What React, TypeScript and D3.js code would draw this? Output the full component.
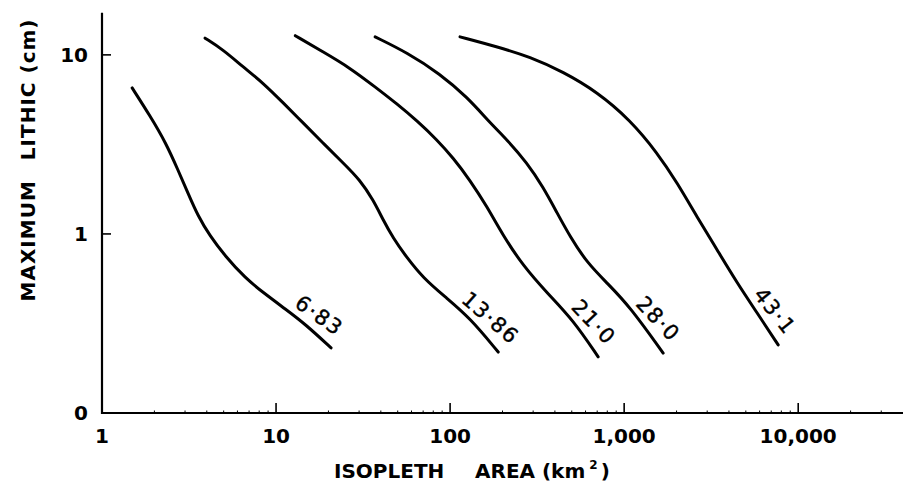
import React from "react";
import * as d3 from "d3";

// ---- data ----
const curveLabels = ["6·83", "13·86", "21·0", "28·0", "43·1"];

const area683 = [1.49, 1.89, 2.33, 2.73, 3.12, 3.56, 4.17, 5.09, 6.63, 8.64, 11.3, 14.7, 20.7];
const size683 = [6.54, 4.56, 3.22, 2.28, 1.69, 1.26, 0.975, 0.754, 0.568, 0.462, 0.381, 0.314, 0.231];

const area1386 = [3.91, 4.96, 6.46, 8.42, 11.0, 14.3, 18.6, 24.3, 30.4, 36.1, 41.2, 47.0, 56.6, 70.0, 93.6, 130, 189];
const size1386 = [12.4, 10.7, 8.57, 6.98, 5.39, 4.17, 3.22, 2.49, 2.0, 1.55, 1.2, 0.95, 0.734, 0.568, 0.445, 0.34, 0.219];

const area210 = [12.9, 18.6, 26.6, 37.1, 49.6, 64.6, 84.2, 104, 130, 163, 202, 263, 361, 509, 709];
const size210 = [12.8, 10.4, 8.46, 6.62, 5.32, 4.28, 3.35, 2.66, 2.0, 1.42, 0.975, 0.663, 0.468, 0.331, 0.206];

const area280 = [37.1, 56.6, 87.6, 125, 170, 213, 277, 342, 412, 490, 613, 798, 1082, 1675];
const size280 = [12.6, 10.3, 7.83, 5.82, 4.17, 3.35, 2.49, 1.83, 1.31, 0.962, 0.689, 0.532, 0.391, 0.216];

const area431 = [114, 186, 288, 446, 700, 1082, 1549, 2018, 2628, 3423, 4460, 5810, 7674];
const size431 = [12.6, 11.1, 9.75, 8.04, 6.21, 4.33, 2.84, 1.93, 1.24, 0.814, 0.532, 0.362, 0.24];

const xTickValues = [1, 10, 100, 1000, 10000];
const xTickLabels = ["1", "10", "100", "1,000", "10,000"];
const yTickValues = [0.1, 1, 10];
const yTickLabels = ["0", "1", "10"];

const W = 904;
const H = 497;

export default function App() {
  const x = d3.scaleLog().domain([1, 40000]).range([102, 903]);
  const y = d3.scaleLog().domain([0.1, 17.2]).range([413, 12.7]);

  const series = [
    { label: curveLabels[0], a: area683, s: size683 },
    { label: curveLabels[1], a: area1386, s: size1386 },
    { label: curveLabels[2], a: area210, s: size210 },
    { label: curveLabels[3], a: area280, s: size280 },
    { label: curveLabels[4], a: area431, s: size431 },
  ];

  const line = d3
    .line<[number, number]>()
    .x((d) => x(d[0]))
    .y((d) => y(d[1]))
    .curve(d3.curveBasis);

  const minorX: number[] = [];
  for (let e = 0; e < 5; e++) {
    for (let m = 2; m <= 9; m++) {
      const v = m * Math.pow(10, e);
      if (v < 40000) minorX.push(v);
    }
  }

  const tickFont = "'DejaVu Sans', sans-serif";

  return (
    <svg
      width={W}
      height={H}
      style={{ position: "absolute", left: 0, top: 0, background: "#fff" }}
    >
      <rect x={0} y={0} width={W} height={H} fill="#fff" />
      {/* axes */}
      <line x1={x(1)} y1={y(17.2)} x2={x(1)} y2={y(0.1) + 1} stroke="#000" strokeWidth={2.2} />
      <line x1={x(1) - 1} y1={y(0.1)} x2={x(40000)} y2={y(0.1)} stroke="#000" strokeWidth={2.2} />

      {xTickValues.slice(1).map((v) => (
        <line key={"xt" + v} x1={x(v)} x2={x(v)} y1={y(0.1)} y2={y(0.1) - 10} stroke="#000" strokeWidth={1.6} />
      ))}
      {minorX.map((v) => (
        <line key={"xm" + v} x1={x(v)} x2={x(v)} y1={y(0.1)} y2={y(0.1) - 2.5} stroke="#000" strokeWidth={1} />
      ))}
      {yTickValues.slice(1).map((v) => (
        <line key={"yt" + v} x1={x(1)} x2={x(1) + 9} y1={y(v)} y2={y(v)} stroke="#000" strokeWidth={1.6} />
      ))}

      {xTickValues.map((v, i) => (
        <text
          key={"xl" + v}
          x={x(v)}
          y={443}
          textAnchor="middle"
          fontFamily={tickFont}
          fontWeight="bold"
          fontSize={20}
          fill="#000"
        >
          {xTickLabels[i]}
        </text>
      ))}
      {yTickValues.map((v, i) => (
        <text
          key={"yl" + v}
          x={88}
          y={y(v)}
          dy="0.36em"
          textAnchor="end"
          fontFamily={tickFont}
          fontWeight="bold"
          fontSize={20}
          fill="#000"
        >
          {yTickLabels[i]}
        </text>
      ))}

      {/* axis titles */}
      <text x={334} y={478} fontFamily={tickFont} fontWeight="bold" fontSize={20} fill="#000">
        ISOPLETH
      </text>
      <text x={475} y={478} fontFamily={tickFont} fontWeight="bold" fontSize={20} fill="#000">
        AREA (km
        <tspan fontSize={12} dx={4} dy={-9}>
          2
        </tspan>
        <tspan dx={3} dy={9}>
          )
        </tspan>
      </text>
      <text
        transform={`translate(35,160) rotate(-90)`}
        textAnchor="middle"
        fontFamily={tickFont}
        fontWeight="bold"
        fontSize={20}
        letterSpacing={1}
        fill="#000"
      >
        <tspan>MAXIMUM</tspan>
        <tspan dx={20}>LITHIC (cm)</tspan>
      </text>

      {/* curves */}
      {series.map((sr) => {
        const pts: [number, number][] = sr.a.map((a, i) => [a, sr.s[i]]);
        const px = pts.map((p) => [x(p[0]), y(p[1])]);
        // walk back along the polyline from the end for the label anchor
        let need = 30;
        let k = px.length - 1;
        let ax = px[k][0];
        let ay = px[k][1];
        while (k > 0 && need > 0) {
          const dx = px[k][0] - px[k - 1][0];
          const dy = px[k][1] - px[k - 1][1];
          const len = Math.hypot(dx, dy);
          if (len >= need) {
            ax = px[k][0] - (dx / len) * need;
            ay = px[k][1] - (dy / len) * need;
            need = 0;
          } else {
            need -= len;
            k--;
            ax = px[k][0];
            ay = px[k][1];
          }
        }
        const n = px.length - 1;
        const ang = Math.atan2(px[n][1] - px[n - 2][1], px[n][0] - px[n - 2][0]);
        const off = 16;
        const lx = ax + Math.sin(ang) * off;
        const ly = ay - Math.cos(ang) * off;
        const deg = (ang * 180) / Math.PI - 5;
        return (
          <g key={sr.label}>
            <path
              d={line(pts) || ""}
              fill="none"
              stroke="#000"
              strokeWidth={3}
              strokeLinecap="round"
            />
            <text
              transform={`translate(${lx},${ly}) rotate(${deg})`}
              textAnchor="middle"
              dy="0.35em"
              fontFamily="'DejaVu Sans', sans-serif"
              fontSize={21}
              letterSpacing={1.5}
              stroke="#000"
              strokeWidth={0.4}
              fill="#000"
            >
              {sr.label}
            </text>
          </g>
        );
      })}
    </svg>
  );
}
